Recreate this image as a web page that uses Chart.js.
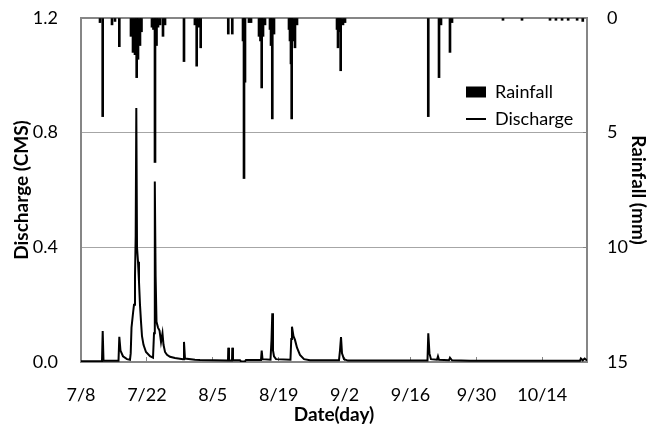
<!DOCTYPE html>
<html lang="en">
<head>
  <meta charset="UTF-8">
  <title>Rainfall and Discharge</title>
  <script src="https://cdn.jsdelivr.net/npm/chart.js"></script>
  <style>
    body { margin: 0; background: #fff; }
    canvas { display: block; }
  </style>
</head>
<body>
  <canvas id="hydroChart" width="663" height="426"></canvas>
  <script>
    // x values are days counted from 7/8
    const dateLabels = ['7/8', '7/22', '8/5', '8/19', '9/2', '9/16', '9/30', '10/14'];

    // Rainfall (mm)
    const rainDays = [4.04, 4.61, 6.59, 7.22, 8.14, 10.62, 11.05, 11.47, 11.83, 12.11, 12.53, 12.85,
      15.08, 15.4, 15.72, 16.04, 16.36, 16.8, 17.42, 17.85, 21.88, 24.2, 24.58, 25.0, 25.43,
      31.29, 32.14, 34.42, 34.63, 34.84, 35.69, 36.12, 37.82, 38.13, 38.39, 38.67, 39.09,
      40.15, 40.37, 40.64, 41.0, 44.19, 44.4, 44.61, 44.76, 45.04, 45.46, 45.89,
      54.39, 54.6, 54.92, 55.17, 55.66, 56.09, 73.78, 76.06, 76.48, 78.39, 78.82,
      89.65, 93.69, 99.64, 100.9, 102.2, 103.5, 105.4, 106.6];
    const rainMm = [0.2, 4.3, 0.3, 0.15, 1.25, 0.8, 1.5, 1.6, 2.6, 1.8, 1.2, 0.6,
      0.4, 0.5, 6.3, 1.2, 0.4, 0.3, 0.8, 0.3, 1.9, 0.3, 2.1, 0.4, 1.3,
      0.7, 0.7, 1.0, 7.0, 2.8, 0.2, 0.2, 0.8, 1.0, 3.05, 0.8, 0.3,
      0.5, 1.2, 4.4, 0.7, 0.5, 1.0, 2.0, 4.4, 1.0, 1.3, 0.3,
      0.5, 1.3, 0.6, 2.3, 0.3, 0.2, 4.3, 2.6, 0.3, 1.5, 0.2,
      0.1, 0.1, 0.1, 0.1, 0.1, 0.1, 0.1, 0.15];

    // Discharge (CMS)
    const flowDays = [0, 4.46, 4.61, 4.78, 7.97, 8.14, 8.39, 8.92, 9.77, 10.41, 10.56, 10.73,
      11.05, 11.26, 11.47, 11.62, 11.75, 11.9, 12.11, 12.32, 12.53, 12.75, 12.96, 13.28, 13.81,
      14.66, 15.3, 15.51, 15.64, 15.72, 15.85, 16.04, 16.36, 16.68, 17.0, 17.31, 17.53, 17.85,
      18.27, 18.91, 19.97, 21.67, 21.88, 22.09, 24.22, 25.28, 31.23, 31.29, 31.44, 32.08, 32.14,
      32.29, 33.78, 34.0, 34.84, 35.05, 38.24, 38.39, 38.56, 40.26, 40.47, 40.64, 40.79, 41.0,
      41.43, 44.5, 44.67, 44.82, 45.14, 45.46, 45.89, 46.52, 47.38, 48.65, 54.81, 55.02, 55.24,
      55.45, 55.87, 56.72, 73.61, 73.78, 74.03, 74.35, 75.63, 75.84, 76.06, 78.18, 78.39, 78.82,
      82.64, 106.0, 106.2, 106.6, 107.0, 107.5];
    const flowCms = [0.003, 0.003, 0.108, 0.005, 0.004, 0.088, 0.04, 0.02, 0.01, 0.008, 0.03, 0.12,
      0.17, 0.2, 0.3, 0.44, 0.886, 0.4, 0.35, 0.28, 0.2, 0.14, 0.09, 0.06, 0.035,
      0.02, 0.015, 0.1, 0.35, 0.63, 0.3, 0.14, 0.12, 0.11, 0.07, 0.1, 0.06, 0.035,
      0.025, 0.018, 0.014, 0.01, 0.07, 0.012, 0.008, 0.007, 0.005, 0.05, 0.005, 0.005, 0.05,
      0.006, 0.006, 0.002, 0.002, 0.007, 0.007, 0.04, 0.01, 0.008, 0.077, 0.17, 0.04, 0.02,
      0.01, 0.008, 0.08, 0.123, 0.09, 0.077, 0.05, 0.025, 0.01, 0.006, 0.006, 0.04, 0.087,
      0.03, 0.01, 0.005, 0.005, 0.1, 0.03, 0.01, 0.008, 0.02, 0.008, 0.006, 0.015, 0.006,
      0.004, 0.004, 0.012, 0.006, 0.012, 0.005];

    const axisGray = '#868686';

    Chart.defaults.font.family = 'Lato';
    Chart.defaults.font.size = 18;
    Chart.defaults.color = '#000';

    // put the legend inside the plot, upper right
    const legendSpot = {
      id: 'legendSpot',
      afterLayout(chart) {
        const lg = chart.legend;
        lg.left = 457;
        lg.top = 74;
        lg.right = 663;
        lg.bottom = 300;
      }
    };

    // keep tick padding from pushing the plot area down
    const fitSide = w => s => { s.width = w; s.paddingTop = 0; s.paddingBottom = 0; };

    const ctx = document.getElementById('hydroChart').getContext('2d');
    new Chart(ctx, {
      type: 'bar',
      data: {
        datasets: [
          {
            type: 'bar',
            label: 'Rainfall',
            data: rainDays.map((d, i) => ({ x: d, y: rainMm[i] })),
            backgroundColor: '#000',
            barThickness: 2,
            yAxisID: 'y2'
          },
          {
            type: 'line',
            label: 'Discharge',
            data: flowDays.map((d, i) => ({ x: d, y: flowCms[i] })),
            borderColor: '#000',
            borderWidth: 2,
            pointRadius: 0,
            tension: 0,
            yAxisID: 'y'
          }
        ]
      },
      options: {
        responsive: false,
        animation: false,
        layout: { padding: { top: 18 } },
        scales: {
          x: {
            type: 'linear',
            min: 0,
            max: 107.5,
            offset: false,
            border: { color: axisGray, width: 2 },
            grid: { offset: false, drawOnChartArea: false, tickLength: -5, color: axisGray },
            ticks: {
              stepSize: 14,
              includeBounds: false,
              padding: 27,
              maxRotation: 0,
              callback: v => dateLabels[v / 14]
            },
            title: { display: true, text: 'Date(day)', font: { weight: 'bold', size: 19 }, padding: { top: 0, bottom: 0 } },
            afterFit: s => { s.height = 64; }
          },
          xTop: {
            type: 'linear',
            position: 'top',
            min: 0,
            max: 107.5,
            border: { color: axisGray, width: 2 },
            grid: { display: false },
            ticks: { display: false },
            afterFit: s => { s.height = 0; }
          },
          y: {
            position: 'left',
            min: 0,
            max: 1.2,
            border: { color: axisGray, width: 2 },
            grid: { color: '#a6a6a6', drawTicks: false },
            ticks: { stepSize: 0.4, padding: 23, callback: v => v.toFixed(1) },
            title: { display: true, text: 'Discharge (CMS)', font: { weight: 'bold', size: 19 }, padding: { top: 10, bottom: 0 } },
            afterFit: fitSide(81)
          },
          y2: {
            position: 'right',
            min: 0,
            max: 15,
            reverse: true,
            border: { color: axisGray, width: 2 },
            grid: { drawOnChartArea: false, tickLength: -4, color: axisGray },
            ticks: { stepSize: 5, padding: 24 },
            title: { display: true, text: 'Rainfall (mm)', font: { weight: 'bold', size: 19 }, padding: { top: 13, bottom: 0 } },
            afterFit: fitSide(76)
          }
        },
        plugins: {
          tooltip: { enabled: false },
          legend: {
            position: 'chartArea',
            align: 'start',
            labels: {
              usePointStyle: true,
              pointStyleWidth: 20,
              boxHeight: 11,
              padding: 9,
              generateLabels: () => [
                { text: 'Rainfall', fillStyle: '#000', strokeStyle: '#000', lineWidth: 0, pointStyle: 'rect', datasetIndex: 0 },
                { text: 'Discharge', fillStyle: '#000', strokeStyle: '#000', lineWidth: 2, pointStyle: 'line', datasetIndex: 1 }
              ]
            }
          }
        }
      },
      plugins: [legendSpot]
    });
  </script>
</body>
</html>
